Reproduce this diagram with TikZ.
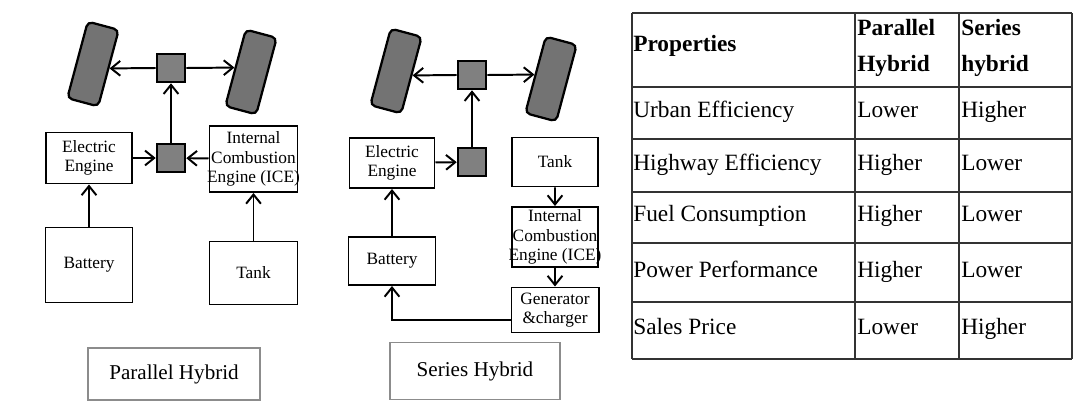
\documentclass[tikz,border=0pt]{standalone}
\usepackage{fontspec}
\setmainfont{Liberation Serif}
\usetikzlibrary{arrows.meta}

\begin{document}
\begin{tikzpicture}[x=0.025cm,y=-0.025cm,
    blk/.style={draw, line width=1.4pt, align=center, inner sep=1pt, font=\fontsize{12.3}{14}\selectfont},
    gear/.style={draw, line width=1.8pt, fill=black!50, minimum size=0.7cm, inner sep=0pt},
    wheel/.style={draw, line width=1.6pt, fill=black!55, rounded corners=3.5pt, minimum width=0.8cm, minimum height=1.98cm, inner sep=0pt, rotate=-15},
    capbox/.style={draw=black!45, line width=0.8pt, font=\fontsize{15}{18}\selectfont},
    flow/.style={line width=1.4pt, -{Straight Barb[length=6.5pt,width=10.5pt]}},
    tab/.style={line width=0.8pt, black!80},
    cell/.style={anchor=base west, inner sep=0pt, font=\fontsize{16.6}{20}\selectfont}]
    \useasboundingbox (0,0) rectangle (1080,414);

    % parallel hybrid
    \node[wheel] (plw) at (93,64) {};
    \node[wheel] (prw) at (251,72) {};
    \node[gear] (ptop) at (171,68) {};
    \node[gear] (plow) at (171,158) {};
    \node[blk, minimum width=2.15cm, minimum height=1.275cm] (pee) at (89,158) {Electric\\Engine};
    \node[blk, minimum width=2.2cm, minimum height=1.65cm, inner xsep=-2pt] (pice) at (253.5,159) {Internal\\Combustion\\Engine (ICE)};
    \node[blk, minimum width=2.175cm, minimum height=1.875cm] (pbat) at (89,265) {Battery};
    \node[blk, minimum width=2.2cm, minimum height=1.575cm] (ptank) at (253.5,273) {Tank};
    \node[capbox, minimum width=4.3cm, minimum height=1.3cm] (pcap) at (174,374) {Parallel Hybrid};
    \draw[flow] (ptop.west) -- (plw.east);
    \draw[flow] (ptop.east) -- (prw.west);
    \draw[flow] (plow) -- (ptop);
    \draw[flow] (pee) -- (plow);
    \draw[flow] (pice) -- (plow);
    \draw[flow] (pbat) -- (pee);
    \draw[flow] (ptank) -- (pice);

    % series hybrid
    \node[wheel] (slw) at (396,71) {};
    \node[wheel] (srw) at (551,79) {};
    \node[gear] (stop) at (472,75) {};
    \node[gear] (slow) at (472,162) {};
    \node[blk, minimum width=2.125cm, minimum height=1.25cm] (see) at (392,163) {Electric\\Engine};
    \node[blk, minimum width=2.15cm, minimum height=1.225cm] (stank) at (555,162) {Tank};
    \node[blk, minimum width=2.15cm, minimum height=1.5cm, inner xsep=-2.5pt] (sice) at (555,237) {Internal\\Combustion\\Engine (ICE)};
    \node[blk, minimum width=2.175cm, minimum height=1.2cm] (sbat) at (392,261) {Battery};
    \node[blk, minimum width=2.175cm, minimum height=1.125cm] (sgen) at (555,310) {Generator\\\&charger};
    \node[capbox, minimum width=4.25cm, minimum height=1.425cm] (scap) at (475,371) {Series Hybrid};
    \draw[flow] (stop.west) -- (slw.east);
    \draw[flow] (stop.east) -- (srw.west);
    \draw[flow] (slow) -- (stop);
    \draw[flow] (see) -- (slow);
    \draw[flow] (sbat) -- (see);
    \draw[flow] (stank) -- (sice);
    \draw[flow] (sice) -- (sgen);
    \draw[flow] ([yshift=-7pt]sgen.west) -| (sbat);

    % table
    \foreach \y in {13,87,139,192,243,302,359}
        \draw[tab] (632,\y) -- (1072,\y);
    \foreach \x in {632,855,959,1072}
        \draw[tab] (\x,13) -- (\x,359);
    \node[cell, font=\fontsize{16.6}{20}\selectfont\bfseries] (hprop) at (633,52) {Properties};
    \node[cell, font=\fontsize{16.6}{20}\selectfont\bfseries] (hpar1) at (857,35) {Parallel};
    \node[cell, font=\fontsize{16.6}{20}\selectfont\bfseries] (hpar2) at (857,71) {Hybrid};
    \node[cell, font=\fontsize{16.6}{20}\selectfont\bfseries] (hser1) at (961,35) {Series};
    \node[cell, font=\fontsize{16.6}{20}\selectfont\bfseries] (hser2) at (961,71) {hybrid};
    \foreach \p/\a/\b/\y [count=\i] in {Urban Efficiency/Lower/Higher/117,
        Highway Efficiency/Higher/Lower/170, Fuel Consumption/Higher/Lower/221,
        Power Performance/Higher/Lower/277, Sales Price/Lower/Higher/334} {
        \node[cell] (prop\i) at (633,\y) {\p};
        \node[cell] (par\i) at (857,\y) {\a};
        \node[cell] (ser\i) at (961,\y) {\b};
    }
\end{tikzpicture}
\end{document}
